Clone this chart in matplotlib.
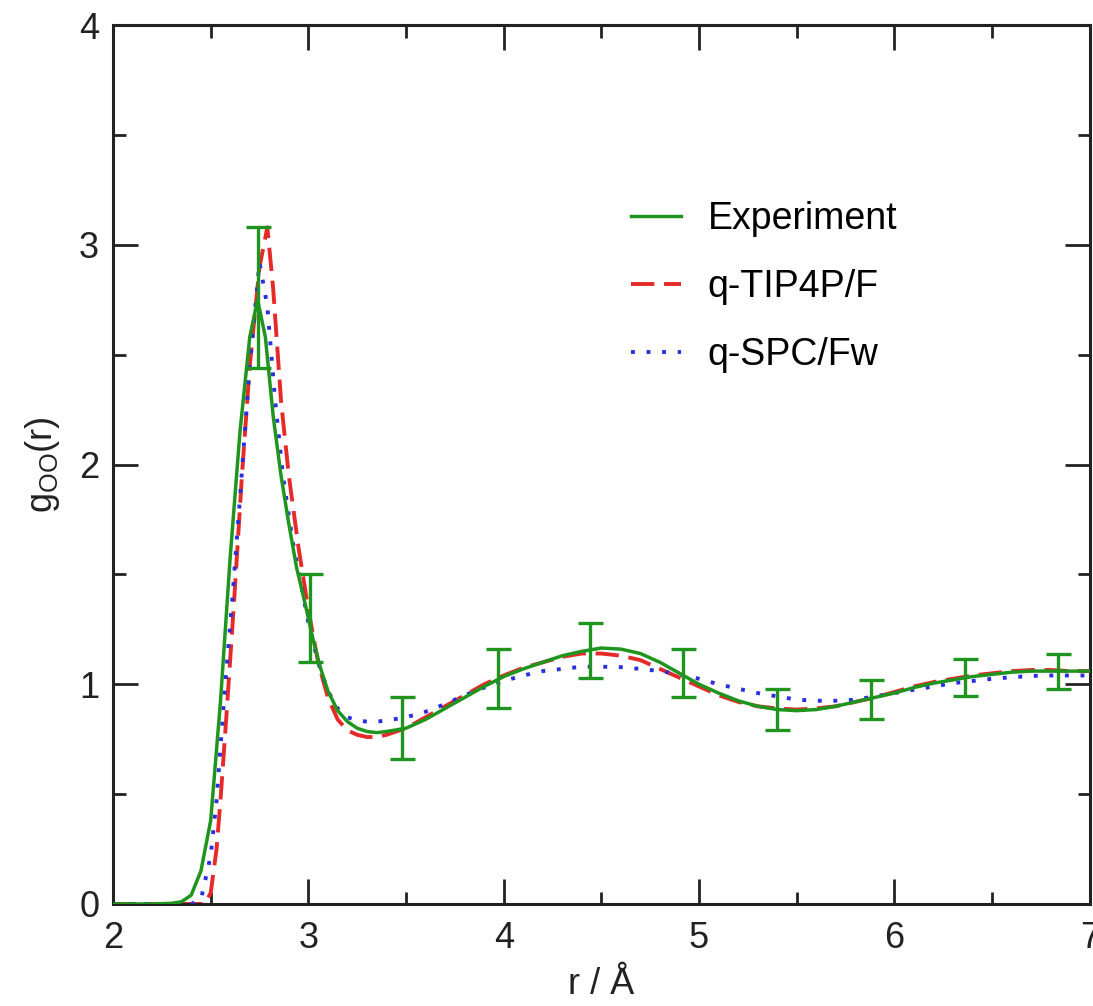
import matplotlib
matplotlib.use("Agg")
import matplotlib.pyplot as plt
from matplotlib.ticker import MultipleLocator

plt.rcParams['font.family'] = ['Liberation Sans', 'DejaVu Sans']
plt.rcParams['mathtext.fontset'] = 'custom'
plt.rcParams['mathtext.rm'] = 'Liberation Sans'

# experiment g_OO(r)
r_exp = [2.0, 2.2, 2.3, 2.35, 2.4, 2.45, 2.5, 2.55, 2.6, 2.65, 2.7, 2.74, 2.78, 2.82,
         2.86, 2.9, 2.94, 2.98, 3.02, 3.06, 3.1, 3.15, 3.2, 3.25, 3.3, 3.35, 3.4, 3.5,
         3.6, 3.7, 3.8, 3.9, 4.0, 4.1, 4.2, 4.3, 4.4, 4.5, 4.6, 4.7, 4.8, 4.9, 5.0, 5.1,
         5.2, 5.3, 5.4, 5.5, 5.6, 5.7, 5.8, 5.9, 6.0, 6.1, 6.2, 6.3, 6.4, 6.5, 6.6, 6.7,
         6.8, 6.9, 7.0]
g_exp = [0.0, 0.0, 0.003, 0.01, 0.04, 0.15, 0.38, 0.92, 1.58, 2.15, 2.58, 2.75, 2.58, 2.22,
         1.95, 1.73, 1.53, 1.38, 1.22, 1.08, 0.97, 0.88, 0.83, 0.80, 0.785, 0.78, 0.785, 0.80,
         0.84, 0.89, 0.94, 0.99, 1.035, 1.07, 1.10, 1.13, 1.15, 1.165, 1.16, 1.14, 1.10, 1.05, 1.00, 0.96,
         0.925, 0.90, 0.885, 0.88, 0.885, 0.90, 0.92, 0.94, 0.96, 0.985, 1.005, 1.02, 1.035, 1.045, 1.055, 1.06,
         1.06, 1.06, 1.06]

# experiment error bars
r_err = [2.74, 3.01, 3.48, 3.97, 4.44, 4.92, 5.40, 5.88, 6.36, 6.84]
g_err = [2.76, 1.30, 0.80, 1.025, 1.155, 1.05, 0.885, 0.93, 1.03, 1.06]
e_err = [0.32, 0.20, 0.14, 0.135, 0.125, 0.11, 0.095, 0.09, 0.085, 0.08]

# q-TIP4P/F
r_tip = [2.0, 2.4, 2.47, 2.5, 2.53, 2.55, 2.58, 2.62, 2.66, 2.7, 2.75, 2.79, 2.82, 2.86,
         2.9, 2.95, 3.0, 3.05, 3.1, 3.15, 3.2, 3.25, 3.3, 3.35, 3.4, 3.5, 3.6, 3.7,
         3.8, 3.9, 4.0, 4.1, 4.2, 4.3, 4.4, 4.5, 4.6, 4.7, 4.8, 4.9, 5.0, 5.1, 5.2,
         5.3, 5.4, 5.5, 5.6, 5.7, 5.8, 5.9, 6.0, 6.1, 6.2, 6.3, 6.4, 6.5, 6.6, 6.7,
         6.8, 6.9, 7.0]
g_tip = [0.0, 0.0, 0.0, 0.05, 0.25, 0.47, 0.85, 1.38, 1.95, 2.45, 2.90, 3.08, 2.80, 2.29,
         1.95, 1.62, 1.34, 1.10, 0.94, 0.84, 0.79, 0.77, 0.76, 0.76, 0.77, 0.80, 0.85, 0.90,
         0.95, 1.00, 1.04, 1.075, 1.10, 1.125, 1.14, 1.14, 1.13, 1.11, 1.07, 1.03, 0.99, 0.95, 0.92,
         0.90, 0.89, 0.885, 0.89, 0.90, 0.92, 0.94, 0.965, 0.99, 1.01, 1.025, 1.04, 1.05, 1.06, 1.065,
         1.065, 1.06, 1.06]

# q-SPC/Fw
r_spc = [2.0, 2.4, 2.45, 2.5, 2.53, 2.57, 2.61, 2.65, 2.7, 2.75, 2.79, 2.83, 2.87, 2.92,
         2.97, 3.0, 3.05, 3.1, 3.15, 3.2, 3.25, 3.3, 3.35, 3.4, 3.5, 3.6, 3.7, 3.8,
         3.9, 4.0, 4.1, 4.2, 4.3, 4.4, 4.5, 4.6, 4.7, 4.8, 4.9, 5.0, 5.1, 5.2, 5.3,
         5.4, 5.5, 5.6, 5.7, 5.8, 5.9, 6.0, 6.1, 6.2, 6.3, 6.4, 6.5, 6.6, 6.7, 6.8,
         6.9, 7.0]
g_spc = [0.0, 0.0, 0.02, 0.22, 0.47, 0.95, 1.38, 1.85, 2.45, 2.92, 2.72, 2.29, 1.95, 1.65,
         1.42, 1.28, 1.10, 0.97, 0.89, 0.85, 0.835, 0.83, 0.83, 0.835, 0.85, 0.875, 0.91, 0.95,
         0.985, 1.015, 1.04, 1.06, 1.07, 1.08, 1.08, 1.078, 1.07, 1.06, 1.045, 1.025, 1.0, 0.98, 0.96,
         0.945, 0.93, 0.925, 0.925, 0.93, 0.945, 0.96, 0.975, 0.99, 1.005, 1.015, 1.025, 1.032, 1.038, 1.04,
         1.04, 1.04]

green = '#1f951f'
red = '#e62a2a'
blue = '#2a2ee0'

fig = plt.figure(figsize=(10.93, 10.06), dpi=100)
ax = fig.add_axes([0.1034, 0.1014, 0.8936, 0.8736])

ax.plot(r_tip, g_tip, color=red, lw=2.8, dashes=(6, 2.5), label='q-TIP4P/F', zorder=2)
ax.plot(r_spc, g_spc, color=blue, lw=2.8, dashes=(1, 3.0), label='q-SPC/Fw', zorder=3)
ax.plot(r_exp, g_exp, color=green, lw=2.5, label='Experiment', zorder=4)
ax.errorbar(r_err, g_err, yerr=e_err, fmt='none', ecolor=green, elinewidth=2.4,
            capsize=9, capthick=2.4, zorder=4)

ax.set_xlim(2, 7)
ax.set_ylim(0, 4)
ax.xaxis.set_major_locator(MultipleLocator(1))
ax.xaxis.set_minor_locator(MultipleLocator(0.5))
ax.yaxis.set_major_locator(MultipleLocator(1))
ax.yaxis.set_minor_locator(MultipleLocator(0.5))
ax.tick_params(which='both', direction='in', top=True, right=True, width=2.0,
               colors='#222222', labelsize=26)
ax.tick_params(which='major', length=18)
ax.tick_params(which='minor', length=9)
ax.tick_params(axis='x', pad=12)
ax.tick_params(axis='y', pad=10)
for sp in ax.spines.values():
    sp.set_linewidth(2.2)
    sp.set_color('#222222')

ax.set_xlabel('r / Å', fontsize=26, color='#222222', labelpad=8)
ax.set_ylabel(r'g$_{\rm OO}$(r)', fontsize=26, color='#222222', labelpad=12)

handles, labels = ax.get_legend_handles_labels()
order = [2, 0, 1]
ax.legend([handles[i] for i in order], [labels[i] for i in order],
          loc='upper left', bbox_to_anchor=(0.53, 0.80), frameon=False,
          fontsize=27, handlelength=1.35, handletextpad=0.7, labelspacing=0.85,
          borderpad=0, borderaxespad=0)

fig.savefig('out.png', dpi=100)
